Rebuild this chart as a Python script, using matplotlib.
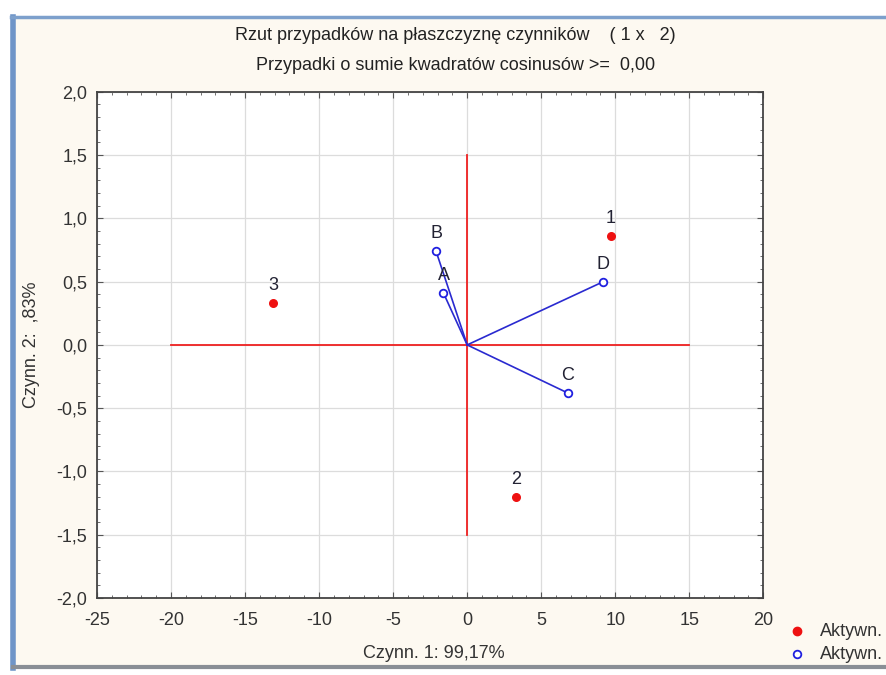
import matplotlib
matplotlib.use("Agg")
import matplotlib.pyplot as plt
from matplotlib.lines import Line2D
from matplotlib.patches import Rectangle
from matplotlib.ticker import MultipleLocator, FuncFormatter

plt.rcParams['font.family'] = ['Liberation Sans', 'DejaVu Sans']

# Cases (active rows)
case_labels = ['1', '2', '3']
case_x = [9.7, 3.3, -13.1]
case_y = [0.86, -1.20, 0.33]

# Variables (active columns)
var_labels = ['A', 'B', 'C', 'D']
var_x = [-1.6, -2.1, 6.8, 9.2]
var_y = [0.41, 0.74, -0.38, 0.50]

# Red cross through the origin
cross_h = [-20, 15]
cross_v = [-1.5, 1.5]

FS = 13

fig = plt.figure(figsize=(8.86, 6.75), dpi=100)
fig.patch.set_facecolor('white')

# window-like panel behind the chart
fig.patches.append(Rectangle((0.012, 0.01), 0.99, 0.965, transform=fig.transFigure,
                             facecolor='#fdf9f1', edgecolor='none', zorder=0))
fig.add_artist(Line2D([0.015, 0.015], [0.01, 0.975], transform=fig.transFigure,
                      color='#6f95c8', lw=4, zorder=1))
fig.add_artist(Line2D([0.012, 1.0], [0.975, 0.975], transform=fig.transFigure,
                      color='#7da0cc', lw=2.5, zorder=1))
fig.add_artist(Line2D([0.015, 1.0], [0.012, 0.012], transform=fig.transFigure,
                      color='#8a8f96', lw=3, zorder=1))

ax = fig.add_axes([0.1095, 0.114, 0.752, 0.75])
ax.set_zorder(5)
ax.set_facecolor('white')

ax.plot(cross_h, [0, 0], color='#ee2020', lw=1.3, zorder=2)
ax.plot([0, 0], cross_v, color='#ee2020', lw=1.3, zorder=2)

for x, y in zip(var_x, var_y):
    ax.plot([0, x], [0, y], color='#2a2ad0', lw=1.2, zorder=3)

ax.scatter(case_x, case_y, s=30, color='#ee1111', zorder=4)
ax.scatter(var_x, var_y, s=30, facecolor='white', edgecolor='#2020e0',
           linewidths=1.3, marker='o', zorder=4)

for lab, x, y in zip(case_labels, case_x, case_y):
    ax.text(x, y + 0.07, lab, ha='center', va='bottom', fontsize=FS, color='#222233')
for lab, x, y in zip(var_labels, var_x, var_y):
    ax.text(x, y + 0.07, lab, ha='center', va='bottom', fontsize=FS, color='#222233')

ax.set_xlim(-25, 20)
ax.set_ylim(-2.0, 2.0)
ax.xaxis.set_major_locator(MultipleLocator(5))
ax.xaxis.set_minor_locator(MultipleLocator(1))
ax.yaxis.set_major_locator(MultipleLocator(0.5))
ax.yaxis.set_minor_locator(MultipleLocator(0.1))
ax.yaxis.set_major_formatter(FuncFormatter(lambda v, p: f"{v:.1f}".replace('.', ',')))
ax.xaxis.set_major_formatter(FuncFormatter(lambda v, p: f"{v:.0f}"))
ax.tick_params(which='both', direction='in', top=True, right=True, colors='#555555',
               labelcolor='#333333', labelsize=FS)
ax.tick_params(which='major', length=4)
ax.tick_params(which='minor', length=2)
ax.tick_params(axis='x', which='major', pad=10)
ax.tick_params(axis='y', which='major', pad=7)
ax.grid(True, which='major', color='#dcdcdc', lw=0.9)
ax.set_axisbelow(True)
for s in ax.spines.values():
    s.set_color('#444444')
    s.set_linewidth(1.3)

ax.set_xlabel('Czynn. 1: 99,17%', fontsize=FS, color='#333333')
ax.set_ylabel('Czynn. 2:  ,83%', fontsize=FS, color='#333333')
ax.xaxis.set_label_coords(0.505, -0.092)
ax.yaxis.set_label_coords(-0.085, 0.5)

fig.text(0.514, 0.948, 'Rzut przypadków na płaszczyznę czynników    ( 1 x   2)',
         ha='center', va='center', fontsize=FS, color='#222222', zorder=6)
fig.text(0.514, 0.903, 'Przypadki o sumie kwadratów cosinusów >=  0,00',
         ha='center', va='center', fontsize=FS, color='#222222', zorder=6)

# legend outside, clipped by the window edge
fig.add_artist(Line2D([0.9], [0.065], transform=fig.transFigure, marker='o', ms=6,
                      color='#ee1111', linestyle='none', zorder=6))
fig.add_artist(Line2D([0.9], [0.031], transform=fig.transFigure, marker='o', ms=5.5,
                      mfc='white', mec='#2020e0', mew=1.3, linestyle='none', zorder=6))
fig.text(0.925, 0.065, 'Aktywn.', ha='left', va='center', fontsize=FS, color='#333333', zorder=6)
fig.text(0.925, 0.031, 'Aktywn.', ha='left', va='center', fontsize=FS, color='#333333', zorder=6)

fig.savefig('out.png', dpi=100, facecolor=fig.get_facecolor())
